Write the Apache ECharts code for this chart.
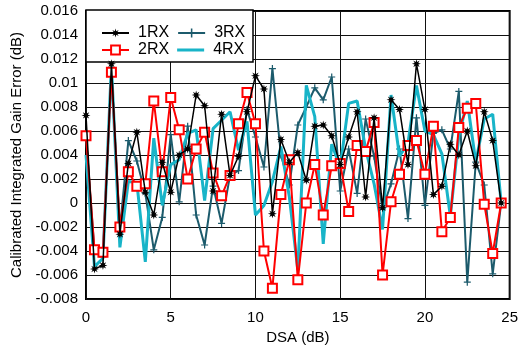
<!DOCTYPE html>
<html>
<head>
<meta charset="utf-8">
<script src="https://cdn.jsdelivr.net/npm/echarts@6/dist/echarts.min.js"></script>
<style>html,body{margin:0;padding:0;background:#fff;}#c{width:521px;height:350px;}</style>
</head>
<body>
<div id="c"></div>
<script>
const dsa = [0,0.5,1,1.5,2,2.5,3,3.5,4,4.5,5,5.5,6,6.5,7,7.5,8,8.5,9,9.5,10,10.5,11,11.5,12,12.5,13,13.5,14,14.5,15,15.5,16,16.5,17,17.5,18,18.5,19,19.5,20,20.5,21,21.5,22,22.5,23,23.5,24,24.5];
const rx1 = [0.0073,-0.0055,-0.0052,0.0116,-0.0026,0.0033,0.0059,0.0009,-0.0010,0.0034,0.0009,0.0040,0.0045,0.0090,0.0081,0.0010,0.0074,0.0023,0.0039,0.0076,0.0106,0.0095,-0.0009,0.0053,0.0034,0.0042,0.0019,0.0064,0.0065,0.0056,0.0032,0.0055,0.0076,0.0005,0.0071,-0.0004,0.0086,0.0078,0.0032,0.0116,0.0078,0.0007,0.0014,0.0049,0.0040,0.0060,0.0031,0.0076,0.0052,0.0000];
const rx2 = [0.0056,-0.0039,-0.0041,0.0109,-0.0020,0.0026,0.0014,0.0016,0.0085,0.0026,0.0088,0.0061,0.0020,0.0045,0.0059,0.0025,0.0006,0.0023,0.0066,0.0092,0.0066,-0.0040,-0.0071,0.0007,0.0036,-0.0064,0.0000,0.0032,-0.0010,0.0031,0.0033,-0.0007,0.0048,0.0043,0.0067,-0.0060,0.0001,0.0024,0.0048,0.0052,0.0024,0.0064,-0.0024,-0.0012,0.0063,0.0079,0.0083,-0.0001,-0.0042,0.0000];
const rx3 = [0.0055,-0.0040,-0.0045,0.0110,-0.0022,0.0052,0.0035,0.0008,-0.0039,-0.0012,0.0057,0.0001,0.0064,-0.0010,-0.0035,0.0014,-0.0017,0.0023,0.0027,0.0078,0.0055,0.0030,0.0112,0.0040,0.0015,0.0065,0.0080,0.0096,0.0086,0.0105,0.0010,0.0045,0.0008,0.0070,0.0039,-0.0005,0.0016,0.0045,-0.0013,0.0071,-0.0002,0.0058,0.0061,0.0045,0.0093,-0.0066,0.0034,0.0015,-0.0059,0.0000];
const rx4 = [0.0040,-0.0053,-0.0046,0.0115,-0.0037,0.0018,0.0017,-0.0049,0.0054,-0.0002,0.0032,0.0036,0.0058,0.0061,0.0002,0.0062,0.0069,0.0076,0.0044,0.0068,-0.0010,-0.0002,0.0018,0.0047,0.0005,-0.0056,0.0098,0.0072,-0.0034,0.0049,0.0030,0.0083,0.0085,0.0045,0.0016,-0.0022,0.0090,0.0039,0.0050,0.0098,0.0060,0.0057,0.0041,-0.0011,0.0056,0.0085,0.0034,0.0070,0.0074,0.0000];
const xTicks = [0,5,10,15,20,25];
const yTicks = [-0.008,-0.006,-0.004,-0.002,0,0.002,0.004,0.006,0.008,0.01,0.012,0.014,0.016];

const FONT = 'Liberation Sans, Arial, Helvetica, sans-serif';
const star = 'path://M5,0 L2.03,0.84 L3.54,3.54 L0.84,2.03 L0,5 L-0.84,2.03 L-3.54,3.54 L-2.03,0.84 L-5,0 L-2.03,-0.84 L-3.54,-3.54 L-0.84,-2.03 L0,-5 L0.84,-2.03 L3.54,-3.54 L2.03,-0.84 Z';
const plus = 'path://M-0.7,-4 L0.7,-4 L0.7,-0.7 L4,-0.7 L4,0.7 L0.7,0.7 L0.7,4 L-0.7,4 L-0.7,0.7 L-4,0.7 L-4,-0.7 L-0.7,-0.7 Z';
const barIcon = 'path://M0,0 L0.01,0 L0.01,0.01 Z M0,4 L27,4 L27,7 L0,7 Z M26.99,11 L27,11 L27,10.99 Z';
const pairs = arr => dsa.map((x, i) => [x, arr[i]]);

const chart = echarts.init(document.getElementById('c'), null, {renderer: 'canvas'});
const legendBase = {
  orient: 'horizontal', left: 96, itemWidth: 27, itemHeight: 11, itemGap: 8, z: 10,
  textStyle: {fontSize: 16, color: '#000', fontFamily: FONT, padding: [0, 0, 0, 4]},
  inactiveColor: '#000'
};
chart.setOption({
  animation: false,
  backgroundColor: '#fff',
  grid: {left: 86, right: 7, top: 11, bottom: 49, show: true, borderColor: '#000', borderWidth: 2, backgroundColor: 'transparent'},
  xAxis: {
    type: 'value', min: xTicks[0], max: xTicks[xTicks.length - 1], interval: 5,
    name: 'DSA (dB)', nameLocation: 'middle', nameGap: 31,
    nameTextStyle: {fontSize: 15, color: '#000', fontFamily: FONT},
    axisLine: {show: false}, axisTick: {show: false},
    axisLabel: {fontSize: 15, color: '#000', margin: 11, fontFamily: FONT},
    splitLine: {show: true, lineStyle: {color: '#111', width: 1}}
  },
  yAxis: {
    type: 'value', min: yTicks[0], max: yTicks[yTicks.length - 1], interval: 0.002,
    name: 'Calibrated Integrated Gain Error (dB)', nameLocation: 'middle', nameGap: 62,
    nameTextStyle: {fontSize: 15, color: '#000', fontFamily: FONT},
    axisLine: {show: false}, axisTick: {show: false},
    axisLabel: {fontSize: 15, color: '#000', margin: 8, fontFamily: FONT,
      formatter: v => String(+v.toFixed(3))},
    splitLine: {show: true, lineStyle: {color: '#111', width: 1}}
  },
  legend: [
    Object.assign({}, legendBase, {top: 20, data: ['1RX', '3RX']}),
    Object.assign({}, legendBase, {top: 37, data: ['2RX', {name: '4RX', icon: barIcon, itemStyle: {color: '#18b4c8'}}]})
  ],
  graphic: [{
    type: 'rect', z: 5, silent: true,
    shape: {x: 86, y: 10, width: 167, height: 52},
    style: {fill: '#fff', stroke: '#000', lineWidth: 1.5}
  }],
  series: [
    {name: '3RX', type: 'line', data: pairs(rx3), z: 2, symbol: plus, symbolSize: 7, showAllSymbol: true,
      lineStyle: {color: '#1c5b6c', width: 2}, itemStyle: {color: '#1c5b6c'}},
    {name: '4RX', type: 'line', data: pairs(rx4), z: 3, showSymbol: false, symbol: 'none',
      lineStyle: {color: '#18b4c8', width: 3}, itemStyle: {color: '#18b4c8'}},
    {name: '2RX', type: 'line', data: pairs(rx2), z: 4, symbol: 'rect', symbolSize: 9, showAllSymbol: true,
      lineStyle: {color: '#ff0000', width: 2}, itemStyle: {color: '#fff', borderColor: '#ff0000', borderWidth: 2}},
    {name: '1RX', type: 'line', data: pairs(rx1), z: 5, symbol: star, symbolSize: 9, showAllSymbol: true,
      lineStyle: {color: '#000', width: 1.5}, itemStyle: {color: '#000'}}
  ]
});
</script>
</body>
</html>
